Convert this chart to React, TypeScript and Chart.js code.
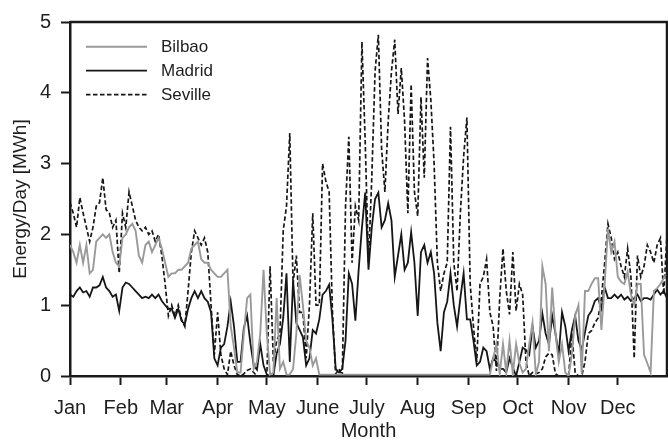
import React, { useEffect, useRef } from "react";
import { Chart, registerables } from "chart.js";

Chart.register(...registerables);

const monthLabels = ["Jan", "Feb", "Mar", "Apr", "May", "June", "July", "Aug", "Sep", "Oct", "Nov", "Dec"];
const monthStartDays = [0, 31, 59, 90, 120, 151, 181, 212, 243, 273, 304, 334];
const seriesNames = ["Bilbao", "Madrid", "Seville"];
const dayStep = 2;

// Energy per day [MWh], sampled every 2 days from 1 Jan
const bilbao = [
  1.85, 1.75, 1.6, 1.85, 1.6, 1.85, 1.45, 1.5, 1.9, 1.95,
  2.0, 1.95, 2.0, 1.75, 1.6, 1.55, 1.95, 2.0, 2.1, 2.15,
  2.05, 1.7, 1.6, 1.85, 1.9, 1.75, 1.85, 1.95, 1.8, 1.6,
  1.4, 1.45, 1.45, 1.5, 1.5, 1.55, 1.6, 1.8, 1.85, 1.9,
  1.65, 1.6, 1.6, 1.5, 1.45, 1.4, 1.4, 1.45, 1.5, 0.7,
  0.4, 0.05, 0.05, 0.6, 1.1, 1.15, 0.1, 0.2, 0.6, 1.5,
  0.6, 0.02, 0.05, 1.1, 0.1, 0.2, 0.02, 0.02, 0.1, 0.6,
  1.43, 1.0, 0.5, 0.4, 0.15, 0.25, 0.02, 0.02, 0.02, 0.02,
  0.02, 0.02, 0.02, 0.02, 0.02, 0.02, 0.02, 0.02, 0.02, 0.02,
  0.02, 0.02, 0.02, 0.02, 0.02, 0.02, 0.02, 0.02, 0.02, 0.02,
  0.02, 0.02, 0.02, 0.02, 0.02, 0.02, 0.02, 0.02, 0.02, 0.02,
  0.02, 0.02, 0.02, 0.02, 0.02, 0.02, 0.02, 0.02, 0.02, 0.02,
  0.02, 0.02, 0.02, 0.02, 0.02, 0.02, 0.02, 0.02, 0.02, 0.25,
  0.45, 0.03, 0.45, 0.05, 0.5, 0.03, 0.45, 0.18, 0.05, 0.1,
  0.45, 0.75, 0.02, 0.2, 1.55, 1.3, 0.35, 1.25, 0.6, 0.2,
  0.45, 0.05, 0.0, 0.3, 0.85, 1.0, 0.03, 1.2, 1.2, 1.3,
  1.38, 1.38, 0.65, 1.3, 2.08, 1.75, 1.9, 1.4, 1.33, 1.3,
  1.47, 1.15, 1.0, 1.3, 1.3, 0.3, 0.18, 0.05, 1.2, 1.24,
  1.3, 1.38, 1.45,
];

const madrid = [
  1.15, 1.12, 1.2, 1.25, 1.18, 1.2, 1.12, 1.25, 1.25, 1.28,
  1.4, 1.25, 1.2, 1.12, 1.15, 0.92, 1.25, 1.32, 1.3, 1.25,
  1.2, 1.15, 1.1, 1.12, 1.1, 1.15, 1.1, 1.15, 1.06, 1.0,
  0.95, 0.95, 0.82, 0.95, 0.78, 0.73, 0.95, 1.1, 1.2, 1.1,
  1.2, 1.1, 1.05, 0.9, 0.25, 0.15, 0.4, 0.45, 0.7, 1.05,
  0.7, 0.2, 0.2, 0.68, 0.85, 0.46, 0.15, 0.09, 0.45, 0.15,
  0.02, 0.0, 0.0, 0.32, 0.45, 0.82, 1.45, 0.2, 1.35, 0.75,
  0.65, 0.55, 0.15, 0.25, 0.65, 0.6, 0.8, 1.15, 1.2, 1.29,
  0.8, 0.1, 0.05, 0.1, 0.5, 1.45, 1.3, 0.78, 1.5, 2.1,
  2.59, 1.5, 2.1, 2.5, 2.59, 2.1, 2.2, 2.44, 2.2, 1.4,
  1.7, 2.0, 1.5, 1.6, 2.03, 1.6, 0.85, 1.75, 1.85, 1.6,
  1.75, 1.45, 0.75, 0.35, 0.9, 1.05, 1.45, 1.0, 0.7, 1.1,
  1.45, 0.8, 0.8, 0.5, 0.15, 0.2, 0.4, 0.35, 0.1, 0.25,
  0.2, 0.1, 0.1, 0.05, 0.25, 0.12, 0.0, 0.2, 0.4, 0.37,
  0.3, 0.7, 0.4, 0.5, 0.88, 0.6, 0.45, 0.85, 0.6, 0.3,
  0.9, 0.7, 0.35, 0.65, 0.85, 0.5, 0.37, 0.62, 0.85, 0.92,
  1.06, 1.1, 0.95, 1.25, 1.1, 1.1, 1.15, 1.1, 1.15, 1.08,
  1.12, 1.06, 1.1, 1.15, 1.06, 1.1, 1.1, 1.08, 1.15, 1.22,
  1.15, 1.2, 1.1,
];

const seville = [
  2.45, 2.3, 2.1, 2.52, 2.3, 2.1, 1.9, 2.1, 2.4, 2.45,
  2.8, 2.35, 2.3, 2.1, 2.2, 1.45, 2.3, 2.1, 2.6, 2.4,
  2.2, 2.1, 2.05, 2.1, 2.0, 2.05, 1.9, 2.0, 1.7, 1.3,
  0.85, 1.0, 0.85, 1.0, 0.8, 0.7, 1.2, 1.75, 2.05, 1.95,
  1.85, 1.95, 1.75, 1.0, 0.3, 0.9, 0.3, 0.1, 0.02, 0.35,
  0.15, 0.02, 0.0, 0.03, 0.08, 0.1, 0.05, 0.0, 0.0, 0.0,
  0.0, 1.55, 0.2, 0.5, 0.6, 2.05, 2.4, 3.43, 1.3, 1.7,
  0.9, 0.9, 0.25, 1.0, 2.3, 1.0, 1.0, 3.0, 2.75, 2.6,
  0.92, 0.03, 0.1, 0.0, 2.4, 3.38, 1.6, 2.4, 2.2, 4.72,
  3.3, 1.6, 2.8, 4.3, 4.82, 3.2, 2.6, 3.6, 4.3, 4.75,
  3.7, 4.35, 3.6, 2.3, 4.12, 2.6, 2.26, 3.94, 2.8, 4.49,
  3.9, 3.0, 1.6, 1.2, 1.45, 1.6, 3.52, 1.6, 1.2, 2.3,
  3.1, 3.65, 1.3, 0.7, 0.2, 1.3, 1.4, 1.65, 0.9, 0.7,
  0.07, 1.1, 1.8, 1.2, 0.87, 1.75, 0.92, 1.3, 1.15, 0.2,
  0.0, 0.05, 0.03, 0.05, 0.1, 0.27, 0.32, 0.3, 0.03, 0.0,
  0.0, 0.0, 0.0, 0.6, 0.05, 0.0, 0.0, 0.2, 0.6, 0.64,
  0.75, 0.82, 1.1, 1.6, 2.15, 1.95, 1.65, 1.75, 1.55, 1.4,
  1.8, 1.4, 0.25, 1.7, 1.4, 1.55, 1.85, 1.75, 1.6, 1.85,
  1.95, 1.15, 2.0,
];

const FONT = "'Liberation Sans', Arial, Helvetica, sans-serif";
const TEXT = "#1e1e1e";

const frameAndLegend = {
  id: "frameAndLegend",
  afterDraw(chart: any) {
    const { ctx, chartArea } = chart;
    ctx.save();
    ctx.strokeStyle = "#1a1a1a";
    ctx.lineWidth = 2.5;
    ctx.beginPath();
    ctx.moveTo(chartArea.left, chartArea.top);
    ctx.lineTo(chartArea.right, chartArea.top);
    ctx.lineTo(chartArea.right, chartArea.bottom);
    ctx.stroke();
    chart.data.datasets.forEach((ds: any, i: number) => {
      const y = chartArea.top + 24.7 + i * 24;
      ctx.setLineDash(ds.borderDash || []);
      ctx.strokeStyle = ds.borderColor;
      ctx.lineWidth = ds.borderWidth;
      ctx.beginPath();
      ctx.moveTo(chartArea.left + 16, y);
      ctx.lineTo(chartArea.left + 77, y);
      ctx.stroke();
      ctx.setLineDash([]);
      ctx.fillStyle = TEXT;
      ctx.font = `17px ${FONT}`;
      ctx.textBaseline = "middle";
      ctx.textAlign = "left";
      ctx.fillText(ds.label, chartArea.left + 91, y + 1);
    });
    ctx.restore();
  },
};

export default function App() {
  const ref = useRef<HTMLCanvasElement>(null);

  useEffect(() => {
    const days = seville.map((_, i) => i * dayStep);
    const toPoints = (vals: number[]) => vals.map((v, i) => ({ x: days[i], y: v }));
    const chart = new Chart(ref.current as HTMLCanvasElement, {
      type: "line",
      data: {
        datasets: [
          {
            label: seriesNames[0],
            data: toPoints(bilbao),
            borderColor: "#9a9a9a",
            borderWidth: 1.9,
            pointRadius: 0,
            tension: 0,
          },
          {
            label: seriesNames[1],
            data: toPoints(madrid),
            borderColor: "#161616",
            borderWidth: 1.8,
            pointRadius: 0,
            tension: 0,
          },
          {
            label: seriesNames[2],
            data: toPoints(seville),
            borderColor: "#161616",
            borderWidth: 1.7,
            borderDash: [4.5, 2.5],
            pointRadius: 0,
            tension: 0,
          },
        ],
      },
      options: {
        animation: false,
        responsive: false,
        devicePixelRatio: 1,
        layout: { padding: { top: 17, right: 1, bottom: 0, left: 0 } },
        plugins: { legend: { display: false }, tooltip: { enabled: false } },
        scales: {
          x: {
            type: "linear",
            min: 0,
            max: 364,
            afterFit: (scale: any) => {
              scale.height = 65;
            },
            afterBuildTicks: (scale: any) => {
              scale.ticks = monthStartDays.map((v) => ({ value: v }));
            },
            ticks: {
              autoSkip: false,
              maxRotation: 0,
              padding: 11,
              color: TEXT,
              font: { family: FONT, size: 20 },
              callback: (value: any) => monthLabels[monthStartDays.indexOf(Number(value))] ?? "",
            },
            grid: {
              drawOnChartArea: false,
              drawTicks: true,
              tickLength: 9,
              tickWidth: 2,
              tickColor: "#1a1a1a",
            },
            border: { display: true, color: "#1a1a1a", width: 2.5 },
            title: {
              display: true,
              text: "Month",
              color: TEXT,
              font: { family: FONT, size: 20, lineHeight: 1 },
              padding: { top: 0, bottom: 0 },
            },
          },
          y: {
            type: "linear",
            min: 0,
            max: 5,
            afterFit: (scale: any) => {
              scale.width = 70;
            },
            ticks: {
              stepSize: 1,
              padding: 10,
              color: TEXT,
              font: { family: FONT, size: 20 },
            },
            grid: {
              drawOnChartArea: false,
              drawTicks: true,
              tickLength: 9,
              tickWidth: 2,
              tickColor: "#1a1a1a",
            },
            border: { display: true, color: "#1a1a1a", width: 2.5 },
            title: {
              display: true,
              text: "Energy/Day [MWh]",
              color: TEXT,
              font: { family: FONT, size: 19, lineHeight: 1.2 },
              padding: { top: 9, bottom: 0 },
            },
          },
        },
      },
      plugins: [frameAndLegend],
    });
    return () => chart.destroy();
  }, []);

  return (
    <canvas
      ref={ref}
      width={668}
      height={441}
      style={{ position: "fixed", left: 0, top: 0, width: 668, height: 441, display: "block" }}
    />
  );
}
